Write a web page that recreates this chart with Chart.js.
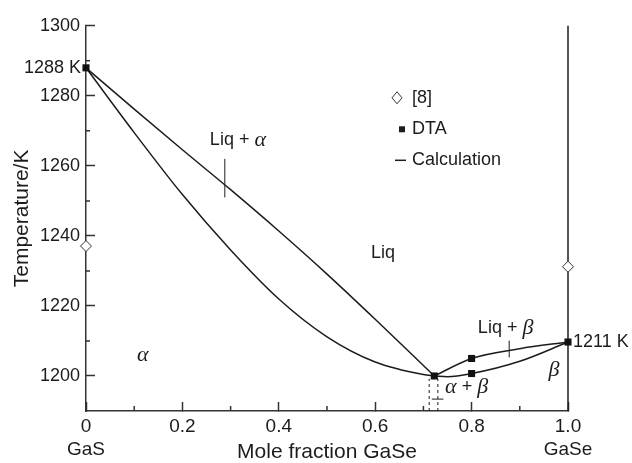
<!DOCTYPE html>
<html>
<head>
<meta charset="utf-8">
<script src="https://cdn.jsdelivr.net/npm/chart.js@4.4.0/dist/chart.umd.min.js"></script>
<style>
  html, body { margin: 0; padding: 0; background: #fff; }
  #wrap { width: 632px; height: 463px; }
</style>
</head>
<body>
<div id="wrap"><canvas id="phase"></canvas></div>
<script>
// GaS - GaSe phase diagram, x = mole fraction GaSe, T in K

// calculated liquidus / solidus
const liqAlphaX = [0, 0.1, 0.2, 0.3, 0.4, 0.5, 0.6, 0.7226]
const liqAlphaT = [1288, 1276.2, 1264.6, 1253.2, 1241.4, 1229.1, 1216.2, 1200]
const solAlphaX = [0, 0.1, 0.2, 0.3, 0.4, 0.5, 0.6, 0.7, 0.7226]
const solAlphaT = [1288, 1269.5, 1251.8, 1236, 1222, 1211.2, 1204, 1200.4, 1200]
const liqBetaX = [0.7226, 0.8, 0.9, 1]
const liqBetaT = [1200, 1205, 1207.8, 1209.7]
const solBetaX = [0.7226, 0.75, 0.8, 0.9, 1]
const solBetaT = [1200, 1199.8, 1200.7, 1204.2, 1209.7]

// pure GaSe line
const gaseX = [1, 1]
const gaseT = [1190, 1300]

// eutectic region marks
const eutLeftX = [0.712, 0.712]
const eutRightX = [0.73, 0.73]
const eutT = [1190, 1199.2]
const eutBarX = [0.7175, 0.7415]
const eutBarT = [1193.4, 1193.4]

// tie marks inside the two-phase fields
const tieAlphaX = [0.288, 0.288]
const tieAlphaT = [1251, 1262]
const tieBetaX = [0.878, 0.878]
const tieBetaT = [1205.3, 1210.1]

// measured points
const dtaX = [0, 0.7226, 0.8, 0.8, 1]
const dtaT = [1288, 1200, 1205, 1200.7, 1209.7]
const refX = [0, 1]
const refT = [1237.1, 1231.2]

// ticks
const xMajor = [0, 0.2, 0.4, 0.6, 0.8, 1]
const xMinor = [0.1, 0.3, 0.5, 0.7, 0.9]
const yMajor = [1200, 1220, 1240, 1260, 1280, 1300]
const yMinor = [1210, 1230, 1250, 1270, 1290]
const xEndNames = ['GaS', 'GaSe']

const pts = (xs, ys) => xs.map((x, i) => ({ x: x, y: ys[i] }))

const INK = '#1c1c1c'
const SANS = 'Liberation Sans, Arial, sans-serif'
const SERIF = 'Liberation Serif, Times New Roman, serif'

const lineSet = (xs, ys, extra) => Object.assign({
  data: pts(xs, ys),
  showLine: true,
  borderColor: INK,
  borderWidth: 1.5,
  pointRadius: 0,
  clip: false,
  order: 2
}, extra || {})

// annotation text, anchored in data coords (dx in px)
const sans = (t) => ({ t: t, f: '18px ' + SANS })
const greek = (t) => ({ t: t, f: 'italic 22px ' + SERIF })
const labels = [
  { parts: [sans('1288 K')], x: 0, y: 1288, dx: -5, align: 'right' },
  { parts: [sans('1211 K')], x: 1, y: 1209.7, dx: 5, align: 'left' },
  { parts: [sans('Liq + '), greek('α')], x: 0.257, y: 1267.3, align: 'left' },
  { parts: [sans('Liq')], x: 0.616, y: 1235.2, align: 'center' },
  { parts: [greek('α')], x: 0.118, y: 1206, align: 'center' },
  { parts: [sans('Liq + '), greek('β')], x: 0.813, y: 1213.6, align: 'left' },
  { parts: [greek('β')], x: 0.971, y: 1201.7, align: 'center' },
  { parts: [greek('α'), sans(' + '), greek('β')], x: 0.745, y: 1196.9, align: 'left' }
]

const drawParts = (ctx, parts, x, y, align) => {
  let w = 0
  parts.forEach(p => { ctx.font = p.f; w += ctx.measureText(p.t).width })
  let cx = align === 'right' ? x - w : align === 'center' ? x - w / 2 : x
  parts.forEach(p => {
    ctx.font = p.f
    ctx.fillText(p.t, cx, y)
    cx += ctx.measureText(p.t).width
  })
}

const extras = {
  id: 'extras',
  afterDatasetsDraw(chart) {
    const ctx = chart.ctx
    const xs = chart.scales.x
    const ys = chart.scales.y
    const area = chart.chartArea
    ctx.save()
    // minor ticks, pointing inward
    ctx.strokeStyle = '#333'
    ctx.lineWidth = 1.5
    ctx.beginPath()
    xMinor.forEach(v => {
      const px = xs.getPixelForValue(v)
      ctx.moveTo(px, area.bottom)
      ctx.lineTo(px, area.bottom - 5)
    })
    yMinor.forEach(v => {
      const py = ys.getPixelForValue(v)
      ctx.moveTo(area.left, py)
      ctx.lineTo(area.left + 4, py)
    })
    ctx.stroke()

    // text annotations
    ctx.fillStyle = INK
    ctx.textBaseline = 'middle'
    labels.forEach(l => {
      const px = xs.getPixelForValue(l.x) + (l.dx || 0)
      const py = ys.getPixelForValue(l.y)
      drawParts(ctx, l.parts, px, py, l.align)
    })

    // legend
    const lx = area.left + 311
    const ly = area.top + 72
    ctx.font = '18px ' + SANS
    ctx.textAlign = 'left'
    ctx.strokeStyle = '#333'
    ctx.lineWidth = 1
    ctx.fillStyle = '#fff'
    ctx.beginPath()
    ctx.moveTo(lx - 5, ly)
    ctx.lineTo(lx, ly - 6)
    ctx.lineTo(lx + 5, ly)
    ctx.lineTo(lx, ly + 6)
    ctx.closePath()
    ctx.fill()
    ctx.stroke()
    ctx.fillStyle = INK
    ctx.fillText('[8]', lx + 15, ly)
    ctx.fillRect(lx + 2, ly + 28.5, 6, 6)
    ctx.fillText('DTA', lx + 15, ly + 31.5)
    ctx.lineWidth = 1.5
    ctx.strokeStyle = INK
    ctx.beginPath()
    ctx.moveTo(lx - 2, ly + 62.5)
    ctx.lineTo(lx + 9, ly + 62.5)
    ctx.stroke()
    ctx.fillText('Calculation', lx + 15, ly + 62.5)
    ctx.restore()
  }
}

const isMajorX = v => xMajor.some(m => Math.abs(m - v) < 1e-6)
const isMajorY = v => yMajor.indexOf(Math.round(v)) >= 0

new Chart('phase', {
  type: 'scatter',
  data: {
    datasets: [
      {
        label: 'DTA',
        data: pts(dtaX, dtaT),
        pointStyle: 'rect',
        pointRadius: 5,
        pointHoverRadius: 5,
        backgroundColor: '#111',
        borderWidth: 0,
        clip: false,
        order: 0
      },
      {
        label: '[8]',
        data: pts(refX, refT),
        pointStyle: 'rectRot',
        pointRadius: 5.5,
        pointHoverRadius: 5.5,
        backgroundColor: '#fff',
        borderColor: '#333',
        borderWidth: 1,
        clip: false,
        order: 1
      },
      lineSet(liqAlphaX, liqAlphaT, { cubicInterpolationMode: 'monotone' }),
      lineSet(solAlphaX, solAlphaT, { cubicInterpolationMode: 'monotone' }),
      lineSet(liqBetaX, liqBetaT, { cubicInterpolationMode: 'monotone' }),
      lineSet(solBetaX, solBetaT, { cubicInterpolationMode: 'monotone' }),
      lineSet(gaseX, gaseT),
      lineSet(eutLeftX, eutT, { borderWidth: 1, borderDash: [3, 3] }),
      lineSet(eutRightX, eutT, { borderWidth: 1, borderDash: [3, 3] }),
      lineSet(eutBarX, eutBarT, { borderWidth: 1 }),
      lineSet(tieAlphaX, tieAlphaT, { borderWidth: 1 }),
      lineSet(tieBetaX, tieBetaT, { borderWidth: 1 })
    ]
  },
  options: {
    responsive: true,
    maintainAspectRatio: false,
    devicePixelRatio: 1,
    animation: false,
    layout: { padding: { top: 24, right: 64, bottom: 0, left: 0 } },
    plugins: {
      legend: { display: false },
      tooltip: { enabled: false }
    },
    scales: {
      x: {
        type: 'linear',
        position: 'bottom',
        min: 0,
        max: 1,
        afterFit: s => { s.height = 52 },
        grid: {
          drawOnChartArea: false,
          tickLength: -9,
          tickWidth: 1.5,
          tickColor: c => (c.tick && isMajorX(c.tick.value) ? '#333' : 'rgba(0,0,0,0)')
        },
        border: { display: true, color: '#333', width: 1.5 },
        ticks: {
          stepSize: 0.1,
          autoSkip: false,
          maxRotation: 0,
          padding: 13,
          color: INK,
          font: { family: SANS, size: 19, lineHeight: 1.23 },
          callback: v => {
            const k = Math.round(v * 10)
            if (k === 0) return ['0', xEndNames[0]]
            if (k === 10) return ['1.0', xEndNames[1]]
            return k % 2 === 0 ? (k / 10).toFixed(1) : ''
          }
        },
        title: {
          display: true,
          text: 'Mole fraction GaSe',
          color: INK,
          font: { family: SANS, size: 21, lineHeight: 1 },
          padding: 0
        }
      },
      y: {
        type: 'linear',
        min: 1190,
        max: 1300,
        afterFit: s => { s.width = 86 },
        grid: {
          drawOnChartArea: false,
          tickLength: -9,
          tickWidth: 1.5,
          tickColor: c => (c.tick && isMajorY(c.tick.value) ? '#333' : 'rgba(0,0,0,0)')
        },
        border: { display: true, color: '#333', width: 1.5 },
        ticks: {
          stepSize: 10,
          autoSkip: false,
          padding: 15,
          color: INK,
          font: { family: SANS, size: 18 },
          callback: v => (isMajorY(v) ? String(v) : '')
        },
        title: {
          display: true,
          text: 'Temperature/K',
          color: INK,
          font: { family: SANS, size: 21, lineHeight: 1 },
          padding: { top: 12, bottom: 0 }
        }
      }
    }
  },
  plugins: [extras]
})
</script>
</body>
</html>
